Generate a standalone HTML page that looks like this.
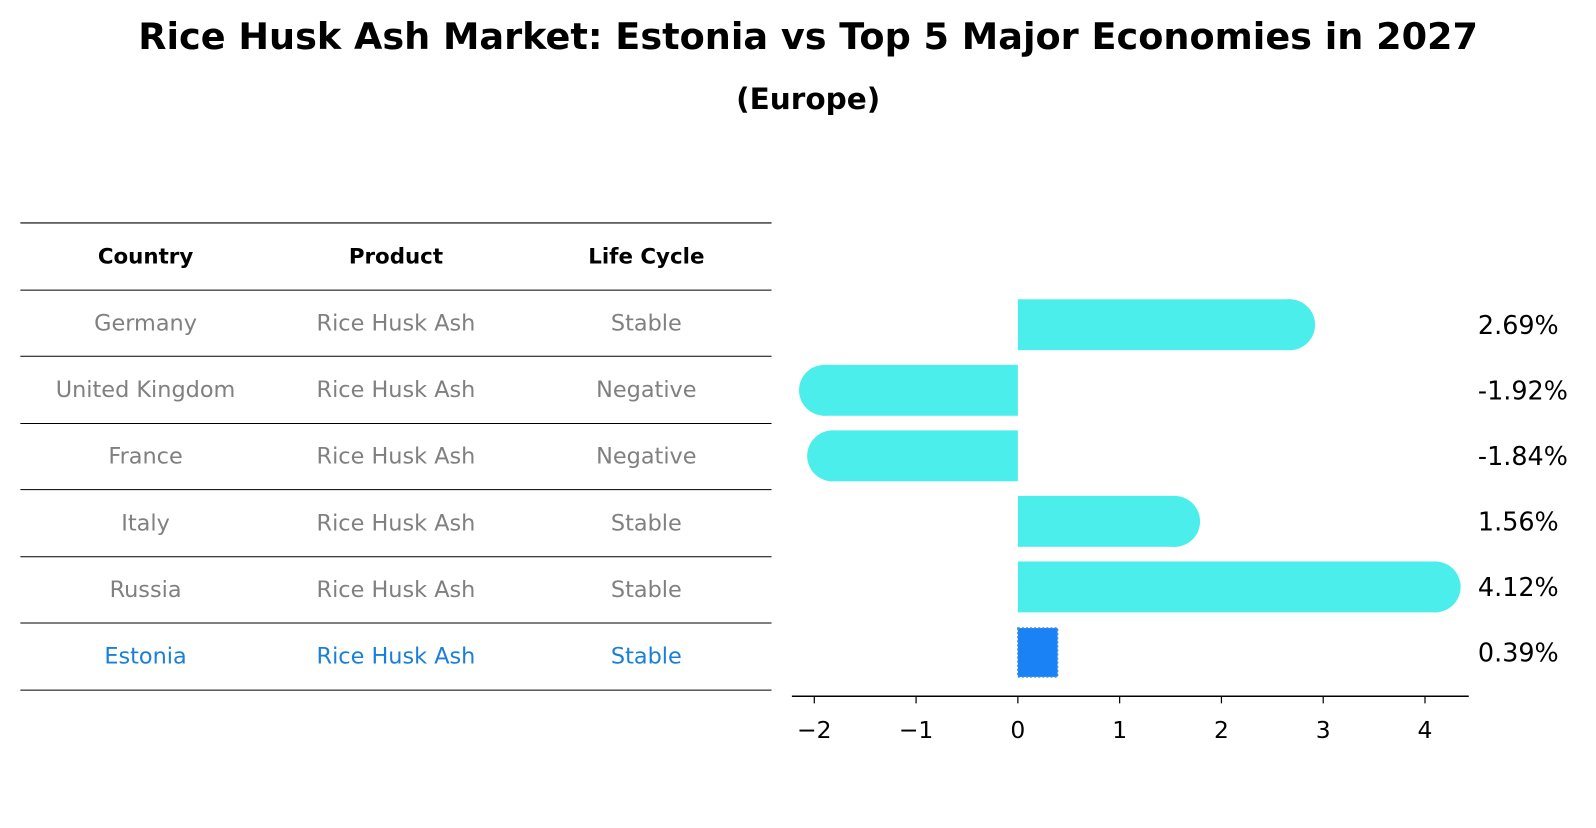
<!DOCTYPE html>
<html><head><meta charset="utf-8"><style>
body{margin:0;background:#fff;font-family:"Liberation Sans","DejaVu Sans",sans-serif;}
</style></head><body>
<svg width="1596" height="823" viewBox="0 0 1568 808.5" xmlns="http://www.w3.org/2000/svg" font-family="DejaVu Sans, Liberation Sans, sans-serif">
<text x="794" y="48" text-anchor="middle" font-size="36" font-weight="bold">Rice Husk Ash Market: Estonia vs Top 5 Major Economies in 2027</text>
<text x="794" y="107" text-anchor="middle" font-size="29" font-weight="bold">(Europe)</text>
<g id="table"></g>
<g id="bars"></g>
</svg>
<script>
const countries=["Germany","United Kingdom","France","Italy","Russia","Estonia"];
const products=["Rice Husk Ash","Rice Husk Ash","Rice Husk Ash","Rice Husk Ash","Rice Husk Ash","Rice Husk Ash"];
const lifeCycles=["Stable","Negative","Negative","Stable","Stable","Stable"];
const values=[2.69,-1.92,-1.84,1.56,4.12,0.39];
const valueLabels=["2.69%","-1.92%","-1.84%","1.56%","4.12%","0.39%"];
const ticks=[-2,-1,0,1,2,3,4];
const NS="http://www.w3.org/2000/svg";
function mk(p,tag,a,txt){const e=document.createElementNS(NS,tag);for(const k in a)e.setAttribute(k,a[k]);if(txt!==undefined)e.textContent=txt;p.appendChild(e);return e;}
const tbl=document.getElementById('table');
const cols=[143,389,635];
const lineYs=[219,285,350,416,481,547,612,678];
lineYs.forEach((y,i)=>{const l=mk(tbl,'line',{x1:20,x2:758,y1:y,y2:y,stroke:'#000','stroke-width':1});

});
["Country","Product","Life Cycle"].forEach((h,i)=>{const t=mk(tbl,'text',{x:cols[i],y:259,'text-anchor':'middle','font-size':21,'font-weight':'bold'},h);

});
countries.forEach((c,r)=>{const y=(lineYs[r+1]+lineYs[r+2])/2+7;const col=r===5?'#1a7fd9':'#808080';
[c,products[r],lifeCycles[r]].forEach((v,i)=>{const t=mk(tbl,'text',{x:cols[i],y:y,'text-anchor':'middle','font-size':22,fill:col},v);

});});
const g=document.getElementById('bars');
const x=v=>1000+v*100;
const rowY=i=>319+i*64.4;
const bh=50;
values.forEach((v,i)=>{const cy=rowY(i);
if(i===values.length-1){const r=mk(g,'rect',{x:Math.min(x(0),x(v)),y:cy-bh/2+1,width:Math.abs(x(v)-x(0)),height:bh-2,fill:'#1a82f5',stroke:'#3a8fe0','stroke-width':1.5,'stroke-dasharray':'2,2'});

}
else{const r=mk(g,'rect',{x:Math.min(x(0),x(v)),y:cy-bh/2,width:Math.abs(x(v)-x(0)),height:bh,fill:'#4beeeb'});


const c=mk(g,'circle',{cx:x(v)+(v>0?-2:2),cy:cy,r:bh/2,fill:'#4beeeb'});

}
const t=mk(g,'text',{x:1452,y:cy+9,'font-size':25},valueLabels[i]);

});
const ax=mk(g,'line',{x1:778,x2:1443,y1:684,y2:684,stroke:'#000','stroke-width':1.5});


ticks.forEach(tv=>{const l=mk(g,'line',{x1:x(tv),x2:x(tv),y1:684,y2:691,stroke:'#000','stroke-width':1.2});


const t=mk(g,'text',{x:x(tv),y:725,'text-anchor':'middle','font-size':23},tv<0?'\u2212'+Math.abs(tv):String(tv));

});
</script>
</body></html>
